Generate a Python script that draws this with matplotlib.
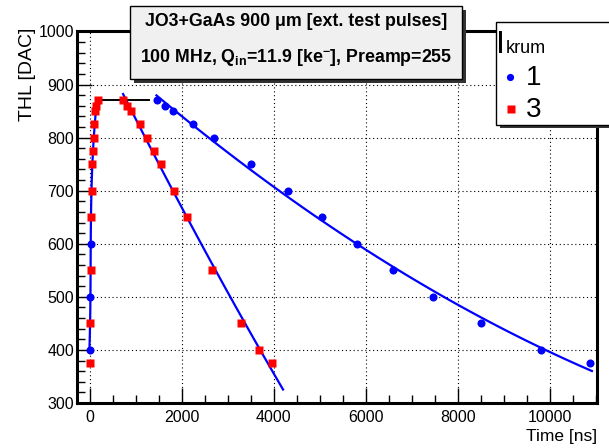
import numpy as np
import matplotlib
matplotlib.use("Agg")
import matplotlib.pyplot as plt
from matplotlib.patches import Rectangle

plt.rcParams['font.family'] = ['Liberation Sans', 'DejaVu Sans']
plt.rcParams['mathtext.fontset'] = 'custom'
plt.rcParams['mathtext.rm'] = 'Liberation Sans:bold'
plt.rcParams['mathtext.it'] = 'Liberation Sans:bold'

# Ikrum = 1 (blue circles)
k1_x = [0, 10, 29, 1460, 1640, 1800, 2250, 2690, 3500, 4310, 5050, 5800, 6590, 7460, 8510, 9800, 10870]
k1_y = [400, 500, 600, 870, 860, 850, 825, 800, 750, 700, 650, 600, 550, 500, 450, 400, 375]

# Ikrum = 3 (red squares)
k3_x = [7, 0, 20, 29, 43, 58, 72, 87, 101, 123, 145, 174,
        725, 819, 906, 1094, 1254, 1406, 1550, 1833, 2109, 2659, 3297, 3680, 3957]
k3_y = [375, 450, 550, 650, 700, 750, 775, 800, 825, 850, 860, 870,
        870, 860, 850, 825, 800, 775, 750, 700, 650, 550, 450, 400, 375]

# plateau line
plateau_y = 870
plateau_x = [180, 1290]

# fit ranges
rise_range = [400, 872]
k3_fall_range = [725, 4200]
k1_fall_range = [1450, 10910]

k1_x = np.array(k1_x); k1_y = np.array(k1_y)
k3_x = np.array(k3_x); k3_y = np.array(k3_y)

fig = plt.figure(figsize=(6.09, 4.48), dpi=100)
W, H = 609, 448
ax = fig.add_axes([77 / W, 1 - 403 / H, (597 - 77) / W, (403 - 31.5) / H])

# rising edge fit (x as function of y)
rise_mask1 = k1_x < 500
rise_mask3 = k3_x < 500
ry = np.concatenate([k1_y[rise_mask1], k3_y[rise_mask3]])
rx = np.concatenate([k1_x[rise_mask1], k3_x[rise_mask3]])
sel = ry >= 400
p = np.polyfit(ry[sel], rx[sel], 3)
yy = np.linspace(rise_range[0], rise_range[1], 100)
ax.plot(np.polyval(p, yy), yy, color='#0000ff', lw=1.6, zorder=3)

# falling edge fits
p3 = np.polyfit(k3_x[~rise_mask3], k3_y[~rise_mask3], 2)
xx = np.linspace(k3_fall_range[0], k3_fall_range[1], 100)
ax.plot(xx, np.polyval(p3, xx), color='#0000ff', lw=1.6, zorder=3)
p1 = np.polyfit(k1_x[~rise_mask1], k1_y[~rise_mask1], 2)
xx = np.linspace(k1_fall_range[0], k1_fall_range[1], 100)
ax.plot(xx, np.polyval(p1, xx), color='#0000ff', lw=1.6, zorder=3)

ax.plot(plateau_x, [plateau_y, plateau_y], color='black', lw=1.4, zorder=3)

ax.plot(k1_x, k1_y, 'o', color='#0000ff', ms=5.8, mec='none', zorder=4)
ax.plot(k3_x, k3_y, 's', color='#ff0000', ms=6.2, mec='none', zorder=5)

ax.set_xlim(-276, 11020)
ax.set_ylim(300, 1000)
ax.set_xticks(np.arange(0, 11000, 2000))
ax.set_xticks(np.arange(0, 11001, 500), minor=True)
ax.set_yticks(np.arange(300, 1001, 100))
ax.set_yticks(np.arange(300, 1001, 20), minor=True)
ax.grid(True, which='major', color='black', ls=(0, (1, 2.5)), lw=0.8)
ax.tick_params(which='both', direction='in', labelsize=11.5, top=False, right=False)
ax.tick_params(which='major', length=11, width=1)
ax.tick_params(which='minor', length=6, width=1)
ax.tick_params(axis='y', pad=2)
ax.tick_params(axis='x', pad=5)
for s in ax.spines.values():
    s.set_linewidth(2.2)

fig.text(28 / W, 1 - 28 / H, 'THL [DAC]', rotation=90, ha='center', va='top', fontsize=14)
fig.text(597 / W, 1 - 441 / H, 'Time [ns]', ha='right', va='baseline', fontsize=12.5)

# title box with shadow
bx0, bx1, by0, by1 = 130, 462, 6, 79
fig.patches.append(Rectangle(((bx0 + 4) / W, 1 - (by1 + 4) / H), (bx1 - bx0) / W, (by1 - by0) / H,
                             transform=fig.transFigure, facecolor='#333333', edgecolor='none', zorder=5))
fig.patches.append(Rectangle((bx0 / W, 1 - by1 / H), (bx1 - bx0) / W, (by1 - by0) / H,
                             transform=fig.transFigure, facecolor='#f0f0f0',
                             edgecolor='black', lw=1.0, zorder=6))
fig.text((bx0 + bx1) / 2 / W, 1 - 22 / H, 'JO3+GaAs 900 \u03bcm [ext. test pulses]',
         ha='center', va='center', fontsize=12.8, fontweight='bold', zorder=7)
fig.text((bx0 + bx1) / 2 / W, 1 - 57 / H, r'100 MHz, Q$_{in}$=11.9 [ke$^{-}$], Preamp=255',
         ha='center', va='center', fontsize=12.8, fontweight='bold', zorder=7)

# legend box
lx0, lx1, ly0, ly1 = 496, 615, 22, 125
fig.patches.append(Rectangle(((lx0 + 4) / W, 1 - (ly1 + 3) / H), (lx1 - lx0) / W, (ly1 - ly0) / H,
                             transform=fig.transFigure, facecolor='#333333', edgecolor='none', zorder=5))
fig.patches.append(Rectangle((lx0 / W, 1 - ly1 / H), (lx1 - lx0) / W, (ly1 - ly0) / H,
                             transform=fig.transFigure, facecolor='white',
                             edgecolor='black', lw=1.0, zorder=6))
fig.text(496 / W, 1 - 53 / H, 'I', ha='left', va='baseline', fontsize=23, zorder=7)
fig.text(505.5 / W, 1 - 53 / H, 'krum', ha='left', va='baseline', fontsize=13, zorder=7)
fig.text(526 / W, 1 - 85 / H, '1', ha='left', va='baseline', fontsize=20, zorder=7)
fig.text(526 / W, 1 - 117 / H, '3', ha='left', va='baseline', fontsize=20, zorder=7)
fig.lines.append(plt.Line2D([510 / W], [1 - 77 / H], marker='o', color='#0000ff', ms=5.2,
                            mec='none', transform=fig.transFigure, zorder=7))
fig.lines.append(plt.Line2D([511 / W], [1 - 109 / H], marker='s', color='#ff0000', ms=5.6,
                            mec='none', transform=fig.transFigure, zorder=7))

fig.savefig('out.png', dpi=100)
